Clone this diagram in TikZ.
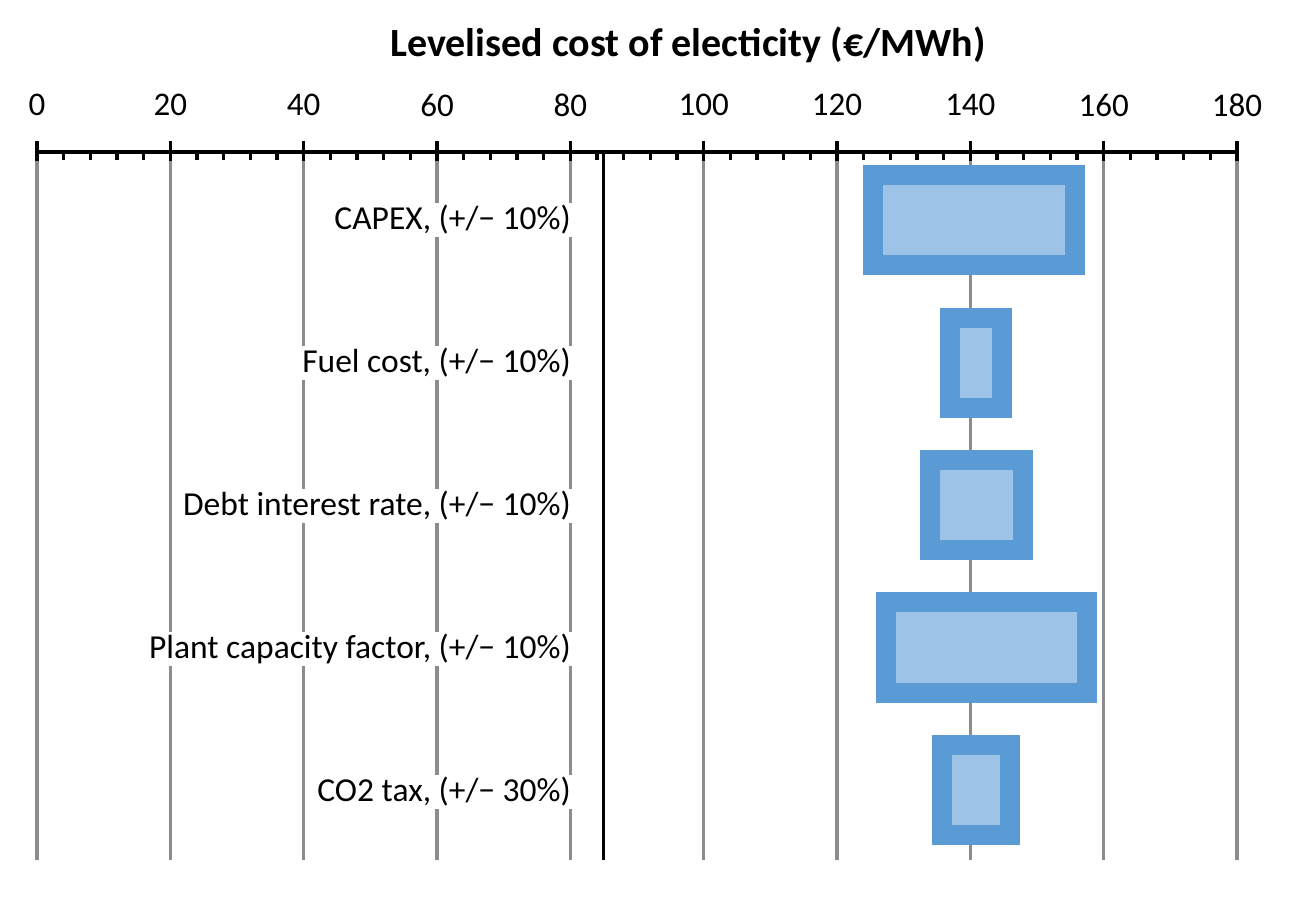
\documentclass[tikz,border=0pt]{standalone}
\usepackage{fontspec}
\setmainfont{Carlito}
\begin{document}
\begin{tikzpicture}[x=1pt,y=-1pt,
  grid/.style={draw=black!45,line width=3.5pt},
  bar/.style={draw={rgb,255:red,91;green,155;blue,213},fill={rgb,255:red,157;green,195;blue,230},line width=20pt},
  lbl/.style={anchor=east,font=\fontsize{33.5}{38}\selectfont,inner sep=2pt,fill=white},
  tick/.style={font=\fontsize{33}{38}\selectfont,inner sep=0pt}]
\useasboundingbox (0,0) rectangle (1315,906);
\node[font=\bfseries\fontsize{40}{46}\selectfont] (title) at (688,45) {Levelised cost of electicity (€/MWh)};
\foreach \v in {0,20,...,180}{
  \pgfmathsetmacro\xx{37+\v*6.6667}
  \draw[grid] (\xx,152) -- (\xx,860);
  \draw[line width=3.5pt] (\xx,141) -- (\xx,161);
  \node[tick] (t\v) at (\xx,105) {\v};
}
\foreach \v in {4,8,...,176}{
  \pgfmathsetmacro\xx{37+\v*6.6667}
  \draw[line width=3.5pt] (\xx,152) -- (\xx,160);
}
\draw[line width=4pt] (37,152) -- (1237,152);
\draw[line width=3pt] (603,152) -- (603,860);
\draw[bar] (873,175) rectangle (1075,265);
\draw[bar] (950,318) rectangle (1002,408);
\draw[bar] (930,460) rectangle (1023,550);
\draw[bar] (886,602) rectangle (1087,693);
\draw[bar] (942,745) rectangle (1010,835);
\node[lbl] (l1) at (573,220) {CAPEX, (+/− 10\%)};
\node[lbl] (l2) at (573,363) {Fuel cost, (+/− 10\%)};
\node[lbl] (l3) at (573,506) {Debt interest rate, (+/− 10\%)};
\node[lbl] (l4) at (573,649) {Plant capacity factor, (+/− 10\%)};
\node[lbl] (l5) at (573,792) {CO2 tax, (+/− 30\%)};
\end{tikzpicture}
\end{document}
